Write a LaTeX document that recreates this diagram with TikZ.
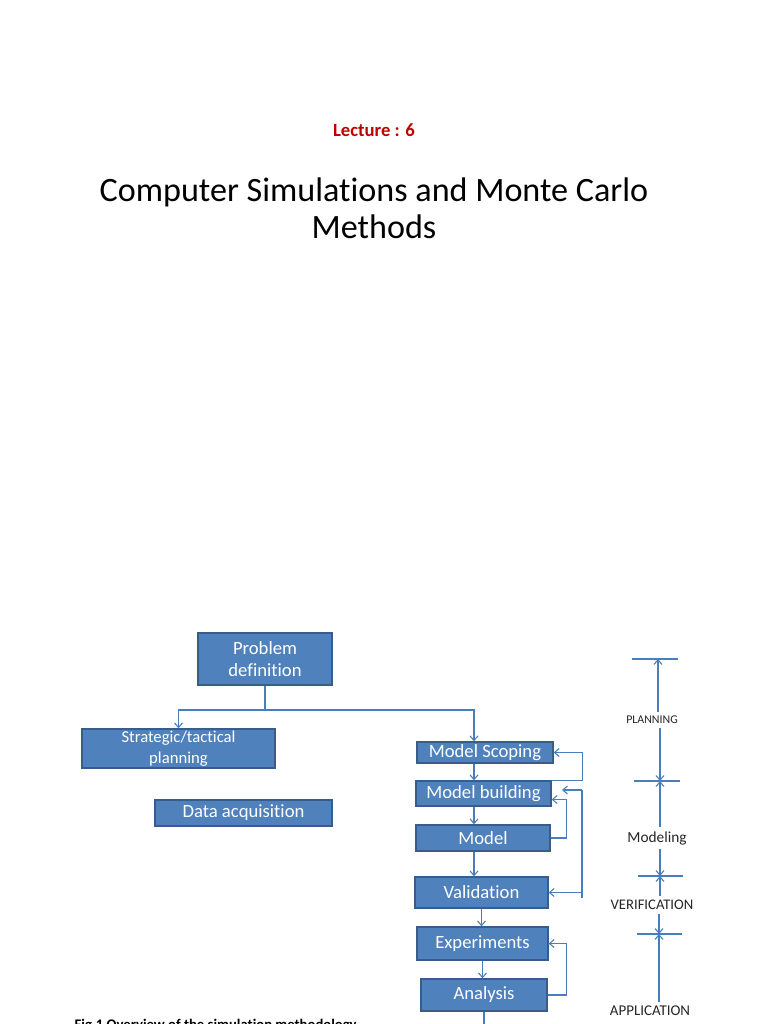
\documentclass[tikz,border=0pt]{standalone}
\usepackage{fontspec}
\setmainfont{Carlito}[Ligatures=NoCommon]
\usetikzlibrary{arrows.meta,calc}
\definecolor{boxblue}{HTML}{4F81BD}\definecolor{boxedge}{HTML}{385D8A}\definecolor{linkblue}{HTML}{4A7EBB}\definecolor{lecred}{HTML}{C00000}
\tikzset{>={Straight Barb[length=3.5pt,width=6pt]},every node/.style={font=\fontsize{14}{17}\selectfont},
  stepbox/.style n args={2}{draw=boxedge,fill=boxblue,text=white,line width=1pt,inner sep=0pt,align=center,minimum width=#1*.75pt,minimum height=#2*.75pt},
  flow/.style={linkblue,line width=.8pt,->},edge/.style={linkblue,line width=.8pt},
  phase/.style={inner sep=3pt,text=black!85}}

\begin{document}
\begin{tikzpicture}[x=.75pt,y=-.75pt]
\useasboundingbox[fill=white] (0,0) rectangle (768,1024);
% titles
\node[text=lecred,font=\fontsize{14}{16}\bfseries] (lec) at (374,130) {Lecture : 6};
\node[align=center,font=\fontsize{25.6}{28}\selectfont] (title) at (374,208) {Computer Simulations and Monte Carlo\\Methods};
% boxes
\node[stepbox={134}{52}] (prob) at (265,659) {Problem\\definition};
\node[stepbox={193}{39},font=\fontsize{12.5}{15.5}\selectfont] (strat) at (178.5,748.5) {Strategic/tactical\\planning};
\node[stepbox={177}{26}] (data) at (243.5,813) {Data acquisition};
\node[stepbox={136}{21}] (scop) at (485,752.5) {Model Scoping};
\node[stepbox={135}{25}] (build) at (483.5,793.5) {Model building};
\node[stepbox={134}{26}] (model) at (483,838) {Model};
\node[stepbox={133}{31}] (valid) at (481.5,892.5) {Validation};
\node[stepbox={131}{33}] (exper) at (482.5,943.5) {Experiments};
\node[stepbox={126}{32}] (anal) at (484,995) {Analysis};
\node[anchor=base west,font=\fontsize{11}{13}\bfseries] (cap) at (70,1029) {Fig.1 Overview of the simulation methodology};
% main flow
\coordinate (split) at (265,710);\coordinate (spine) at (474,710);\coordinate (out) at (485,1030);
\draw[edge] (prob.south) -- (split);\draw[flow] (split) -| (strat.north);\draw[flow] (split) -- (spine) -- (spine|-scop.north);
\draw[flow] (scop.south-|spine) -- (build.north-|spine);\draw[flow] (build.south-|spine) -- (model.north-|spine);\draw[flow] (model.south-|spine) -- (valid.north-|spine);
\draw[flow] (valid.south) -- (valid.south|-exper.north);\draw[flow] (exper.south) -- (exper.south|-anal.north);\draw[flow] (anal.south) -- (anal.south|-out);
% feedback loops
\coordinate (bus) at (582,790);\coordinate (busend) at (582,898);\coordinate (tip) at (562,790);
\draw[flow] (build.north east) -- ++(31,0) |- (scop.east);
\draw[edge] (bus) -- (busend);\draw[flow] (bus) -- (tip);\draw[flow] (valid.east-|bus) -- (valid.east);
\draw[flow] (model.east) -- ++(16,0) |- ([yshift=-4.5pt]build.east);
\draw[flow] (anal.east) -- ++(19,0) |- (exper.east);
% phases
\coordinate (t1) at (658,659);\coordinate (t2) at (660,781);\coordinate (t3) at (660,876);\coordinate (t4) at (659,934);
\foreach \t in {t1,t2}{\draw[edge] (\t) ++(-26,0) -- ++(46,0);}
\foreach \t in {t3,t4}{\draw[edge] (\t) ++(-22,0) -- ++(45,0);}
\node[phase,font=\fontsize{8.9}{10}\selectfont] (plan) at (652,720) {PLANNING};
\node[phase,font=\fontsize{11.5}{13}\selectfont] (modl) at (657,838) {Modeling};
\node[phase,font=\fontsize{11}{13}\selectfont] (verif) at (652,905) {VERIFICATION};
\node[phase,font=\fontsize{11.2}{13}\selectfont] (appl) at (650,1011) {APPLICATION};
\draw[flow] (plan.north-|t1) -- (t1);\draw[flow] (plan.south-|t2) -- (t2);\draw[flow] (modl.north-|t2) -- (t2);
\draw[flow] (modl.south-|t3) -- (t3);\draw[flow] (verif.north-|t3) -- (t3);\draw[flow] (verif.south-|t4) -- (t4);\draw[flow] (appl.north-|t4) -- (t4);
\end{tikzpicture}
\end{document}
